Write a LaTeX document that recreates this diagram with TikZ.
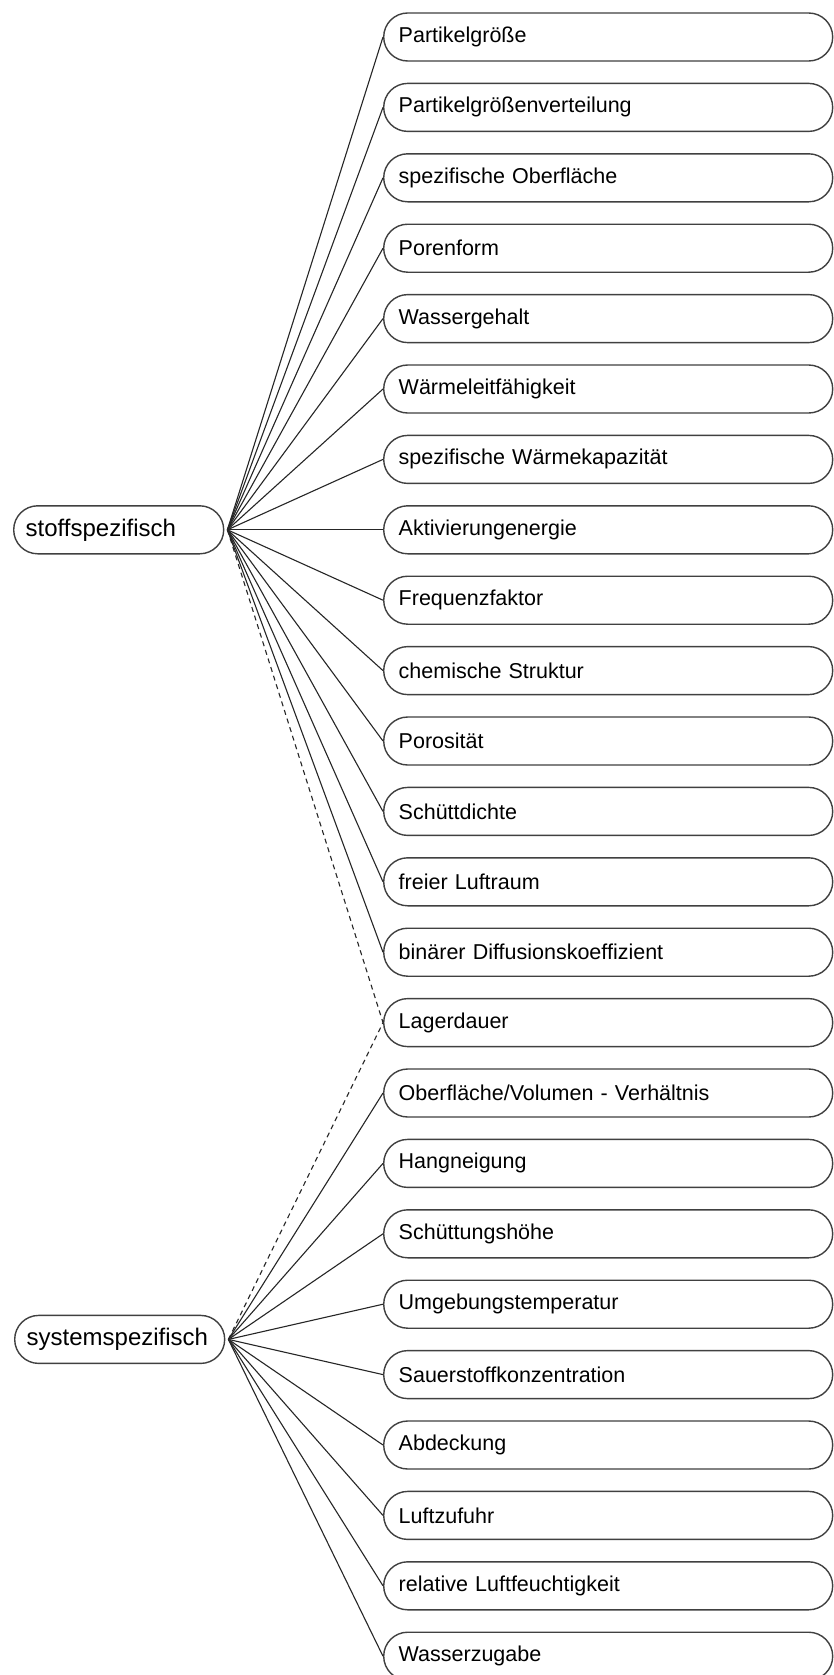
\documentclass[tikz,border=0pt]{standalone}
\usepackage{fontspec}
\setmainfont{Liberation Sans}
\newcommand{\boxfont}{\fontsize{21.5}{24}\selectfont}
\newcommand{\groupfont}{\fontsize{24}{27}\selectfont}
\begin{document}
\begin{tikzpicture}[x=1pt, y=-1pt,
  box/.style={draw=black!75, line width=1.4pt, rounded corners=24pt,
    minimum height=48pt, inner xsep=15pt, inner ysep=0pt, align=left,
    anchor=west, text=black},
  item/.style={box, font=\boxfont, text width=419pt},
  group/.style={box, font=\groupfont, inner xsep=12pt, text width=186pt},
  link/.style={draw=black!85, line width=1.1pt},
  optlink/.style={link, dash pattern=on 5pt off 4pt}]
\useasboundingbox (0,0) rectangle (833,1675);
\fill[white] (0,0) rectangle (833,1675);

% parameters (right column)
\foreach \t [count=\i from 0] in {
  Partikelgröße, Partikelgrößenverteilung, spezifische Oberfläche,
  Porenform, Wassergehalt, Wärmeleitfähigkeit,
  spezifische Wärmekapazität, Aktivierungenergie, Frequenzfaktor,
  chemische Struktur, Porosität, Schüttdichte, freier Luftraum,
  binärer Diffusionskoeffizient, Lagerdauer,
  Oberfläche/Volumen - Verhältnis, Hangneigung, Schüttungshöhe,
  Umgebungstemperatur, Sauerstoffkonzentration, Abdeckung,
  Luftzufuhr, relative Luftfeuchtigkeit, Wasserzugabe}
  \node[item] (c\i) at (383, 37+70.4*\i) {\t};

% groups (left column)
\node[group] (stoff) at (13, 37+70.4*7) {stoffspezifisch};
\node[group] (system) at (14, 37+70.4*18.5) {systemspezifisch};

% connectors
\foreach \i in {0,...,13}
  \draw[link] ([xshift=3pt]stoff.east) -- (c\i.west);
\foreach \i in {15,...,23}
  \draw[link] ([xshift=3pt]system.east) -- (c\i.west);
\draw[optlink] ([xshift=3pt]stoff.east) -- (c14.west);
\draw[optlink] ([xshift=3pt]system.east) -- (c14.west);
\end{tikzpicture}
\end{document}
